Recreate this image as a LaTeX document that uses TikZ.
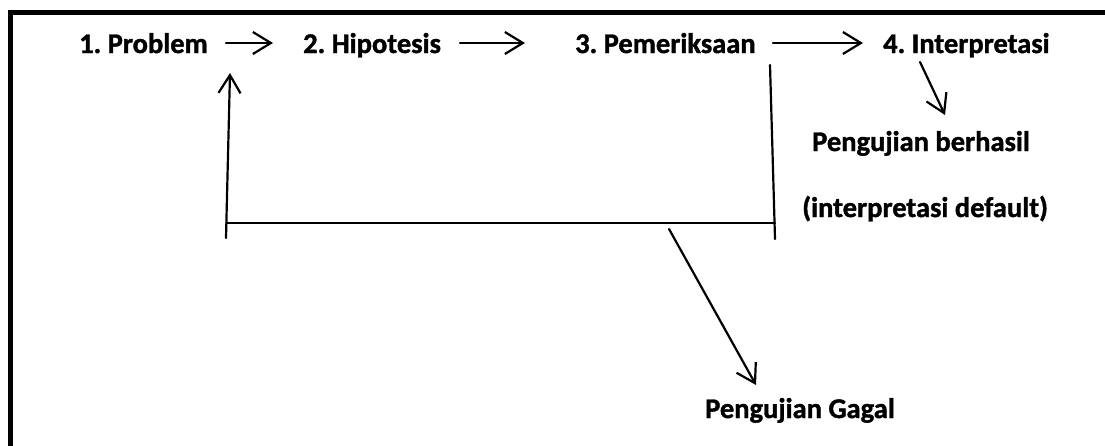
\documentclass[tikz,border=0pt]{standalone}
\usepackage{fontspec}
\setmainfont{Carlito}[BoldFeatures={FakeBold=1.3}]
\usetikzlibrary{arrows.meta}
\frenchspacing
\begin{document}
\begin{tikzpicture}[x=1pt,y=-1pt,
  lbl/.style={anchor=base west,inner sep=0pt,font=\fontsize{28.5}{34}\selectfont\bfseries},
  conn/.style={line width=2.2pt,line cap=round},
  arr/.style={conn,-{Straight Barb[length=18pt,width=22pt,line width=2.2pt]}}]
\clip (0,0) rectangle (1105,445);
\useasboundingbox (0,0) rectangle (1105,445);
% frame
\draw[line width=5pt] (10.5,460) -- (10.5,12) -- (1120,12);
% labels
\node[lbl] (p1) at (79,53) {1. Problem};
\node[lbl] (p2) at (303,53) {2. Hipotesis};
\node[lbl] (p3) at (575,53) {3. Pemeriksaan};
\node[lbl] (p4) at (883,53) {4. Interpretasi};
\node[lbl] (ok1) at (812,151) {Pengujian berhasil};
\node[lbl] (ok2) at (802,217) {(interpretasi default)};
\node[lbl] (fail) at (705,418) {Pengujian Gagal};
% connector points
\coordinate (a1s) at (226,43); \coordinate (a1e) at (273,43);
\coordinate (a2s) at (460,43); \coordinate (a2e) at (525,43);
\coordinate (a3s) at (773,43); \coordinate (a3e) at (863,43);
\coordinate (d1s) at (920,62); \coordinate (d1e) at (945,115);
\coordinate (fbL) at (226,238); \coordinate (fbT) at (230,73);
\coordinate (hL) at (227,223); \coordinate (hR) at (775,223);
\coordinate (rT) at (770,65); \coordinate (rB) at (775,239);
\coordinate (d2s) at (669,229); \coordinate (d2e) at (756,385);
% connectors
\draw[arr] (a1s) -- (a1e);
\draw[arr] (a2s) -- (a2e);
\draw[arr] (a3s) -- (a3e);
\draw[arr] (d1s) -- (d1e);
\draw[arr] (fbL) -- (fbT);
\draw[conn] (hL) -- (hR);
\draw[conn] (rT) -- (rB);
\draw[arr] (d2s) -- (d2e);
\end{tikzpicture}
\end{document}
